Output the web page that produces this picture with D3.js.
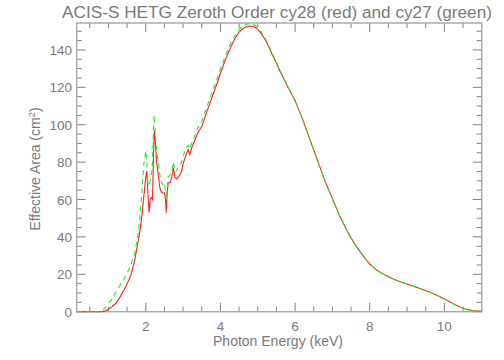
<!DOCTYPE html>
<html><head><meta charset="utf-8">
<script src="https://cdn.jsdelivr.net/npm/d3@7"></script>
<style>body{margin:0;background:#fff}svg{display:block}</style>
</head><body>
<script>
const title = "ACIS-S HETG Zeroth Order cy28 (red) and cy27 (green)";
const xLabel = "Photon Energy (keV)";
const energy = [0.15,0.5,0.8,0.85,0.9,1.0,1.1,1.2,1.3,1.4,1.5,1.6,1.7,1.8,1.85,1.9,1.95,2.0,2.03,2.06,2.09,2.12,2.15,2.18,2.21,2.23,2.26,2.29,2.33,2.38,2.42,2.46,2.50,2.53,2.55,2.57,2.60,2.65,2.70,2.74,2.78,2.82,2.86,2.91,2.96,3.0,3.05,3.10,3.14,3.18,3.23,3.3,3.4,3.5,3.6,3.7,3.8,3.9,4.0,4.1,4.2,4.3,4.4,4.5,4.6,4.7,4.8,4.9,5.0,5.1,5.2,5.3,5.4,5.5,5.6,5.8,6.0,6.2,6.4,6.6,6.8,7.0,7.2,7.4,7.6,7.8,8.0,8.2,8.4,8.6,8.8,9.0,9.2,9.4,9.6,9.8,10.0,10.2,10.4,10.6,10.8,11.0];
const cy28 = [0,0,0,0.1,0.3,1.3,2.8,4.5,7.5,11,15,19.5,27,38,44,52,62,72,75,62,53,60,61,60,85,97,90,80,74,66,64,63.5,63.5,60,53,62,69,69,72,77,72,71,71.5,73,75,79,82,85,86.5,84,87.5,91,96,99,105,110.5,116,121.5,127.5,133,138,142.5,146.5,149.5,151.3,152.5,152.8,152.5,151,148.5,145.5,141.5,137,133,128.5,120.5,113,103,92,81,70,60.5,51,43,36,30.5,25.5,22,19.7,17.8,16.2,14.8,13.4,12,10.5,8.8,6.8,4.6,2.6,1.2,0.5,0.2];
const cy27 = [0,0,0,0.8,1.8,4.3,7,10.5,13.8,17,20.5,25,31,42,52,65,79,86,80,68,67,70,72,80,100,105,95,87,80,73,69,68,69,64,60,65,72,73,76,80,75,75,77,78,80,83,86,88,89,87,90,93.5,98.5,102,107.5,113,118.5,124,129.5,135,140,144.5,148,151,152.8,153.8,154,153.5,152,149.5,146.2,142.2,137.7,133.5,129,120.5,113,103,92,81,70,60.5,51,43,36,30.5,25.5,22,19.7,17.8,16.2,14.8,13.4,12,10.5,8.8,6.8,4.6,2.6,1.2,0.5,0.2];
const xTicks = [2,4,6,8,10];
const yTicks = [0,20,40,60,80,100,120,140];

const W=504,H=360;
const L=76.7,R=481.7,T=23,B=311.7;
const svg=d3.select("body").append("svg").attr("width",W).attr("height",H)
  .style("font-family","Helvetica, Arial, 'Liberation Sans', sans-serif");
const x=d3.scaleLinear().domain([0.15,11]).range([L,R]);
const y=d3.scaleLinear().domain([0,154.4]).range([B,T]);
const axCol="#808080", txtCol="#7a7a7a";

// ticks
const xMinor=d3.range(0.5,11.01,0.5).filter(v=>v>0.15);
const yMinor=d3.range(0,154.4,5);
const g=svg.append("g").attr("stroke",axCol).attr("stroke-width",1);
xMinor.forEach(v=>{
  const len = (Math.abs(v/2-Math.round(v/2))<1e-6)?9:5;
  g.append("line").attr("x1",x(v)).attr("x2",x(v)).attr("y1",B).attr("y2",B-len);
  g.append("line").attr("x1",x(v)).attr("x2",x(v)).attr("y1",T).attr("y2",T+len);
});
yMinor.forEach(v=>{
  const len = (v%20===0)?9:5;
  g.append("line").attr("y1",y(v)).attr("y2",y(v)).attr("x1",L).attr("x2",L+len);
  g.append("line").attr("y1",y(v)).attr("y2",y(v)).attr("x1",R).attr("x2",R-len);
});
svg.append("rect").attr("x",L).attr("y",T).attr("width",R-L).attr("height",B-T)
  .attr("fill","none").attr("stroke","#aaa").attr("stroke-width",1.5);

// tick labels
svg.selectAll(".xt").data(xTicks).enter().append("text")
  .attr("x",d=>x(d)).attr("y",331).attr("text-anchor","middle")
  .attr("font-size",13.5).attr("fill",txtCol).text(d=>d);
svg.selectAll(".yt").data(yTicks).enter().append("text")
  .attr("x",72).attr("y",d=>y(d)+5).attr("text-anchor","end")
  .attr("font-size",13.5).attr("fill",txtCol).text(d=>d);

// lines
const line=d3.line().x((d,i)=>x(energy[i])).y(d=>y(d));
svg.append("path").attr("d",line(cy28)).attr("fill","none").attr("stroke","#ff2020").attr("stroke-width",1.1);
svg.append("path").attr("d",line(cy27)).attr("fill","none").attr("stroke","#22ee22").attr("stroke-width",1.1).attr("stroke-dasharray","5,4");

// labels
svg.append("text").attr("x",277).attr("y",18).attr("text-anchor","middle")
  .attr("font-size",17.2).attr("fill",txtCol).text(title);
svg.append("text").attr("x",278).attr("y",346).attr("text-anchor","middle")
  .attr("font-size",14).attr("fill",txtCol).text(xLabel);
const yl=svg.append("text").attr("transform","translate(40,169) rotate(-90)")
  .attr("text-anchor","middle").attr("font-size",14).attr("fill",txtCol);
yl.append("tspan").text("Effective Area (cm");
yl.append("tspan").attr("font-size",9.5).attr("dy",-5).text("2");
yl.append("tspan").attr("dy",5).text(")");
</script>
</body></html>
